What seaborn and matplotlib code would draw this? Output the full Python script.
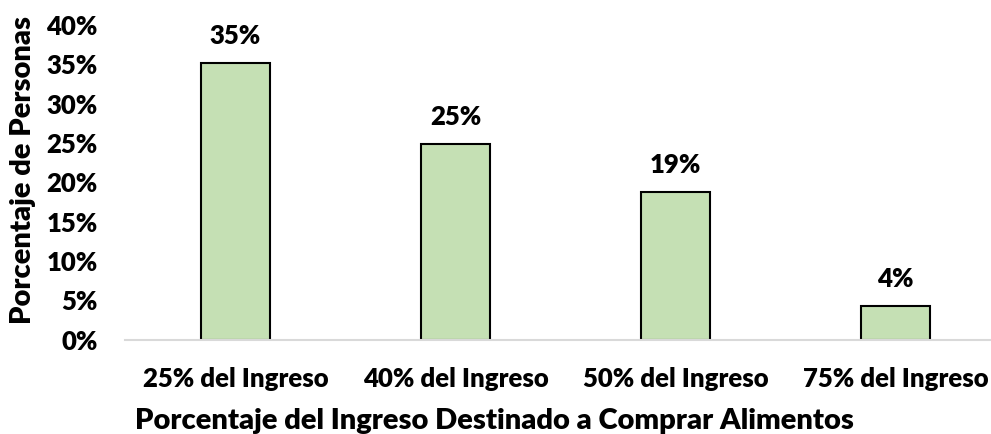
import matplotlib
matplotlib.use("Agg")
import matplotlib.pyplot as plt
import pandas as pd
import seaborn as sns
from matplotlib.ticker import PercentFormatter

categories = ["25% del Ingreso", "40% del Ingreso", "50% del Ingreso", "75% del Ingreso"]
values = [0.352, 0.249, 0.188, 0.042]
labels = ["35%", "25%", "19%", "4%"]

sns.set_theme(style="white")
plt.rcParams["font.family"] = ["Lato", "DejaVu Sans"]
plt.rcParams["font.weight"] = "bold"
FS = 18.5
LFS = 21

df = pd.DataFrame({"cat": categories, "val": values})

fig = plt.figure(figsize=(9.91, 4.34), dpi=100)
ax = fig.add_axes([0.1266, 0.2177, 0.8734, 0.7247])
sns.barplot(data=df, x="cat", y="val", color="#C5E0B4", saturation=1,
            width=0.314, edgecolor="black", linewidth=1.5, ax=ax)

for i, (v, lab) in enumerate(zip(values, labels)):
    ax.annotate(lab, (i, v), xytext=(0, 19.5), textcoords="offset points",
                ha="center", va="center", fontsize=FS, fontweight="heavy", color="black")

ax.set_xlim(-0.5, 3.434)
ax.set_ylim(0, 0.40)
ax.set_yticks([i / 100 for i in range(0, 41, 5)])
ax.yaxis.set_major_formatter(PercentFormatter(1.0, decimals=0))
ax.tick_params(axis="both", length=0, labelsize=FS, colors="black")
ax.tick_params(axis="y", pad=20)
ax.tick_params(axis="x", pad=20)
for t in ax.get_xticklabels() + ax.get_yticklabels():
    t.set_fontweight("heavy")

for s in ["top", "right", "left"]:
    ax.spines[s].set_visible(False)
ax.spines["bottom"].set_color("#D9D9D9")
ax.spines["bottom"].set_linewidth(1.5)

ax.set_xlabel("Porcentaje del Ingreso Destinado a Comprar Alimentos",
              fontsize=LFS, fontweight="heavy", color="black")
ax.set_ylabel("Porcentaje de Personas", fontsize=LFS, fontweight="heavy", color="black")
ax.xaxis.set_label_coords((494 - 125.5) / 865.5, -(429 - 339.5) / 314.5)
ax.xaxis.label.set_va("baseline")
ax.yaxis.set_label_coords(-(125.5 - 23) / 865.5, (339.5 - 170) / 314.5)
ax.yaxis.label.set_va("center")

fig.savefig("out.png", dpi=100)
